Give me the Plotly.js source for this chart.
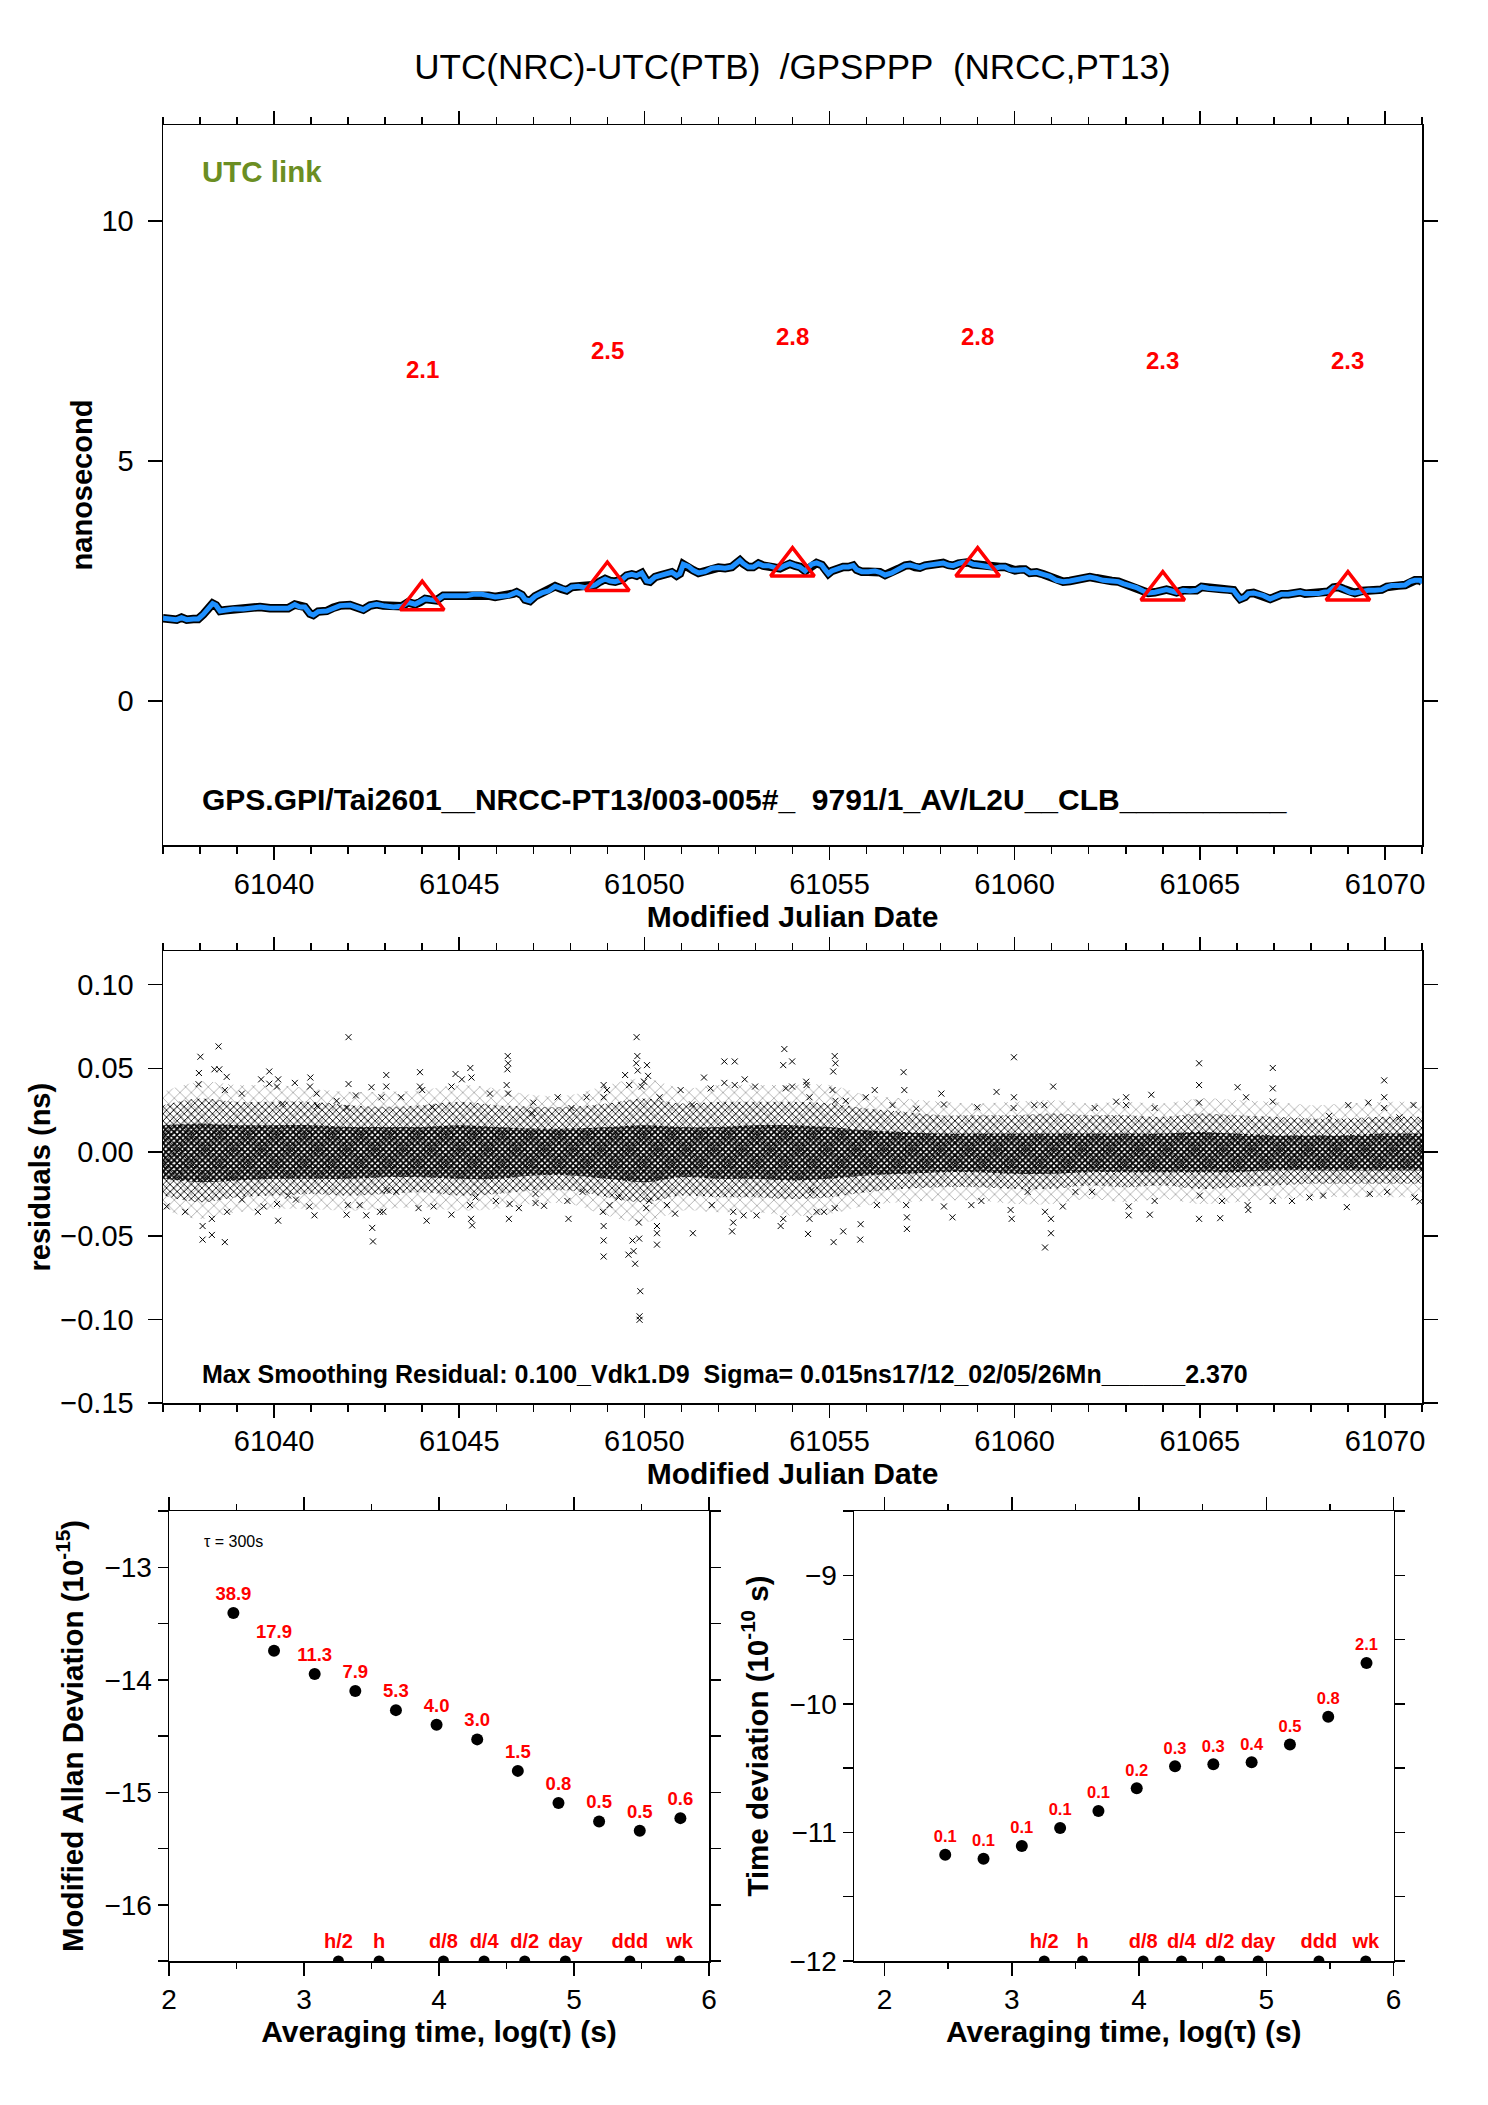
<!DOCTYPE html>
<html>
<head>
<meta charset="utf-8">
<script src="https://cdn.plot.ly/plotly-3.0.1.min.js"></script>
<style>html,body{margin:0;padding:0;background:#fff;}#chart{width:1488px;height:2105px;}</style>
</head>
<body>
<div id="chart"></div>
<script>
// ---------- DATA ----------
const mjdLink = [61037.00,61037.19,61037.37,61037.50,61037.64,61037.82,61037.95,61038.09,61038.22,61038.34,61038.43,61038.54,61038.67,61038.90,61039.17,61039.44,61039.62,61039.89,61040.16,61040.38,61040.56,61040.70,61040.83,61040.97,61041.06,61041.19,61041.42,61041.60,61041.78,61042.05,61042.23,61042.41,61042.59,61042.77,61042.95,61043.22,61043.45,61043.62,61043.81,61043.94,61044.08,61044.21,61044.39,61044.57,61044.75,61045.02,61045.20,61045.38,61045.61,61045.79,61045.97,61046.15,61046.33,61046.46,61046.55,61046.69,61046.78,61046.91,61047.05,61047.23,61047.41,61047.59,61047.77,61047.90,61048.04,61048.22,61048.40,61048.53,61048.67,61048.80,61048.94,61049.07,61049.21,61049.39,61049.52,61049.66,61049.79,61049.93,61050.06,61050.15,61050.29,61050.42,61050.60,61050.74,61050.87,61050.96,61051.05,61051.19,61051.32,61051.46,61051.64,61051.82,61052.00,61052.18,61052.36,61052.49,61052.58,61052.67,61052.81,61052.94,61053.08,61053.21,61053.35,61053.53,61053.66,61053.80,61053.93,61054.07,61054.20,61054.34,61054.43,61054.52,61054.65,61054.79,61054.88,61054.97,61055.06,61055.19,61055.37,61055.51,61055.64,61055.73,61055.87,61056.05,61056.23,61056.36,61056.50,61056.68,61056.86,61057.04,61057.17,61057.31,61057.44,61057.58,61057.71,61057.89,61058.07,61058.21,61058.34,61058.48,61058.61,61058.75,61058.88,61059.02,61059.20,61059.33,61059.47,61059.60,61059.74,61059.87,61060.01,61060.14,61060.28,61060.41,61060.59,61060.77,61060.95,61061.13,61061.31,61061.49,61061.67,61061.85,61062.03,61062.21,61062.39,61062.62,61062.80,61062.93,61063.11,61063.29,61063.47,61063.61,61063.79,61063.97,61064.10,61064.24,61064.37,61064.55,61064.73,61064.91,61065.05,61065.23,61065.41,61065.59,61065.77,61065.91,61066.00,61066.09,61066.22,61066.31,61066.45,61066.58,61066.72,61066.90,61067.03,61067.21,61067.39,61067.57,61067.71,61067.84,61068.02,61068.20,61068.34,61068.47,61068.61,61068.74,61068.88,61069.06,61069.19,61069.37,61069.55,61069.73,61069.91,61070.05,61070.18,61070.36,61070.54,61070.68,61070.81,61070.95,61071.01];
const linkNs = [1.723,1.709,1.695,1.737,1.695,1.709,1.709,1.806,1.924,2.029,1.994,1.876,1.890,1.917,1.917,1.945,1.959,1.931,1.917,1.931,2.008,1.959,1.959,1.820,1.792,1.862,1.876,1.945,1.987,2.001,1.959,1.903,1.987,2.015,1.987,1.959,1.973,2.056,2.015,2.056,2.126,2.112,2.098,2.195,2.195,2.195,2.195,2.223,2.223,2.195,2.167,2.181,2.195,2.237,2.265,2.209,2.112,2.084,2.181,2.251,2.292,2.390,2.334,2.306,2.376,2.390,2.362,2.376,2.417,2.487,2.542,2.501,2.487,2.528,2.612,2.640,2.612,2.667,2.501,2.487,2.584,2.612,2.653,2.681,2.612,2.653,2.848,2.806,2.723,2.667,2.695,2.765,2.779,2.765,2.792,2.876,2.931,2.862,2.792,2.792,2.862,2.820,2.820,2.779,2.765,2.820,2.860,2.820,2.792,2.709,2.765,2.848,2.876,2.834,2.737,2.653,2.709,2.751,2.792,2.792,2.820,2.737,2.695,2.695,2.709,2.681,2.626,2.667,2.751,2.820,2.834,2.792,2.779,2.820,2.834,2.834,2.876,2.834,2.820,2.862,2.890,2.890,2.848,2.834,2.820,2.792,2.765,2.792,2.792,2.737,2.723,2.737,2.737,2.667,2.681,2.640,2.598,2.515,2.487,2.501,2.528,2.556,2.584,2.556,2.515,2.501,2.487,2.445,2.404,2.362,2.292,2.251,2.265,2.306,2.320,2.292,2.265,2.306,2.292,2.306,2.376,2.348,2.334,2.334,2.320,2.306,2.209,2.126,2.167,2.237,2.251,2.223,2.195,2.126,2.167,2.223,2.223,2.251,2.265,2.237,2.237,2.237,2.265,2.278,2.362,2.376,2.334,2.265,2.251,2.292,2.306,2.306,2.320,2.376,2.404,2.404,2.417,2.487,2.515,2.515,2.473];

const mjdMark = [61044, 61049, 61054, 61059, 61064, 61069];
const markVal = [2.1, 2.5, 2.8, 2.8, 2.3, 2.3];

// residuals: envelopes of the dense band (per day) and individual outliers
const bandMjd  = [61037,61038,61039,61040,61041,61042,61043,61044,61045,61046,61047,61048,61049,61050,61051,61052,61053,61054,61055,61056,61057,61058,61059,61060,61061,61062,61063,61064,61065,61066,61067,61068,61069,61070,61071];
const sparseUp = [0.036,0.042,0.040,0.040,0.038,0.036,0.036,0.037,0.040,0.038,0.034,0.034,0.040,0.044,0.038,0.040,0.040,0.040,0.040,0.034,0.032,0.030,0.029,0.030,0.031,0.029,0.030,0.029,0.032,0.031,0.030,0.028,0.029,0.030,0.030];
const outerUp  = [0.028,0.032,0.030,0.030,0.030,0.028,0.027,0.028,0.030,0.028,0.027,0.027,0.029,0.032,0.029,0.030,0.030,0.030,0.029,0.026,0.024,0.022,0.022,0.022,0.023,0.022,0.022,0.021,0.023,0.022,0.021,0.020,0.020,0.021,0.021];
const coreUp   = [0.016,0.017,0.016,0.016,0.016,0.015,0.015,0.015,0.016,0.015,0.014,0.014,0.015,0.016,0.015,0.015,0.016,0.016,0.015,0.013,0.012,0.011,0.011,0.011,0.011,0.011,0.011,0.011,0.012,0.011,0.010,0.010,0.010,0.011,0.011];
const coreLo   = [-0.016,-0.018,-0.017,-0.016,-0.016,-0.016,-0.015,-0.015,-0.016,-0.016,-0.014,-0.014,-0.016,-0.018,-0.015,-0.016,-0.016,-0.017,-0.016,-0.014,-0.013,-0.012,-0.012,-0.013,-0.013,-0.012,-0.012,-0.012,-0.012,-0.012,-0.011,-0.011,-0.011,-0.011,-0.011];
const outerLo  = [-0.026,-0.030,-0.027,-0.026,-0.025,-0.026,-0.025,-0.024,-0.026,-0.025,-0.023,-0.023,-0.027,-0.030,-0.026,-0.027,-0.027,-0.028,-0.027,-0.024,-0.022,-0.021,-0.021,-0.022,-0.022,-0.020,-0.021,-0.020,-0.022,-0.021,-0.020,-0.019,-0.019,-0.019,-0.019];
const sparseLo = [-0.034,-0.040,-0.036,-0.034,-0.034,-0.035,-0.034,-0.033,-0.035,-0.034,-0.031,-0.031,-0.038,-0.042,-0.035,-0.036,-0.036,-0.038,-0.037,-0.032,-0.030,-0.029,-0.029,-0.031,-0.031,-0.028,-0.030,-0.028,-0.031,-0.030,-0.028,-0.027,-0.027,-0.027,-0.027];

const resOutMjd = [61037.10,61038.01,61037.97,61037.96,61038.07,61038.07,61038.50,61038.39,61038.52,61038.32,61038.32,61038.67,61038.72,61038.67,61038.73,61037.60,61039.13,61039.13,61039.56,61039.65,61039.87,61039.87,61039.72,61040.08,61040.11,61040.11,61040.08,61040.56,61040.23,61040.38,61040.59,61040.98,61040.97,61040.95,61041.09,61041.15,61041.16,61041.69,61042.01,61042.01,61041.96,61041.96,61041.99,61042.21,61042.31,61042.49,61042.65,61042.67,61042.63,61042.90,61043.03,61043.03,61042.86,61042.95,61043.04,61043.30,61043.43,61043.94,61043.94,61044.00,61043.90,61044.12,61044.31,61044.28,61044.79,61044.79,61044.90,61045.07,61045.30,61045.33,61045.32,61045.35,61045.29,61045.44,61045.83,61045.99,61046.31,61046.32,61046.30,61046.28,61046.32,61046.34,61046.36,61046.61,61047.06,61047.06,61047.29,61047.00,61046.97,61047.66,61047.92,61047.95,61048.03,61048.33,61048.44,61048.90,61048.90,61048.99,61048.88,61048.90,61048.90,61048.90,61049.06,61049.30,61049.48,61049.59,61049.57,61049.68,61049.71,61049.75,61049.79,61049.81,61049.78,61049.82,61049.85,61049.89,61049.87,61049.87,61049.86,61049.93,61049.99,61050.07,61050.10,61050.05,61050.13,61050.34,61050.34,61050.34,61050.41,61050.61,61050.83,61050.98,61051.31,61051.29,61051.61,61051.79,61051.82,61052.16,61052.44,61052.16,61052.44,61052.40,61052.37,61052.40,61052.71,61052.68,61052.99,61053.03,61053.78,61053.75,61053.82,61053.68,61053.75,61053.99,61053.99,61054.42,61054.38,61054.37,61054.46,61054.46,61054.65,61054.51,61054.85,61055.11,61055.14,61055.16,61055.10,61055.08,61055.16,61055.14,61055.37,61055.44,61055.84,61055.83,61055.98,61056.22,61056.28,61056.70,61057.00,61057.02,61057.07,61057.09,61057.09,61057.34,61058.02,61058.09,61058.09,61058.32,61058.83,61058.99,61059.10,61059.51,61059.89,61059.92,61059.98,61059.98,61059.97,61060.35,61060.53,61060.80,61060.82,61060.82,61060.98,61060.98,61061.04,61061.30,61061.64,61062.09,61062.16,61062.74,61063.01,61063.01,61063.08,61063.08,61063.69,61063.65,61063.78,61063.78,61064.98,61064.98,61064.98,61065.00,61064.98,61065.55,61065.60,61066.02,61066.25,61066.29,61066.31,61066.97,61066.97,61066.97,61066.97,61067.49,61067.96,61068.33,61068.49,61068.97,61069.01,61069.55,61069.59,61069.98,61069.98,61069.98,61070.06,61070.39,61070.77,61070.80,61070.94];
const resOutVal = [-0.0325,0.0569,0.0472,0.0405,-0.0442,-0.0523,0.0631,0.0494,0.0494,-0.0399,-0.0495,-0.0538,0.0449,0.0370,-0.0357,-0.0357,0.0349,-0.0284,-0.0357,0.0434,0.0481,0.0408,-0.0325,-0.0310,-0.0410,0.0434,0.0391,0.0413,0.0288,-0.0260,-0.0284,0.0445,0.0391,-0.0325,-0.0378,0.0349,0.0274,0.0306,0.0686,0.0406,0.0263,-0.0374,-0.0317,0.0338,-0.0317,-0.0378,-0.0453,-0.0534,0.0387,0.0327,0.0460,0.0391,-0.0357,-0.0357,-0.0228,-0.0238,0.0327,0.0477,0.0391,0.0370,-0.0335,-0.0410,-0.0325,0.0267,0.0391,-0.0374,0.0466,0.0434,0.0502,0.0445,-0.0399,-0.0438,-0.0317,-0.0271,0.0349,-0.0292,0.0573,0.0530,0.0494,0.0400,0.0349,-0.0399,-0.0310,-0.0335,-0.0250,-0.0305,-0.0321,0.0295,0.0231,0.0327,-0.0292,-0.0399,0.0263,-0.0238,0.0327,0.0400,0.0327,0.0370,-0.0357,-0.0442,-0.0528,-0.0624,-0.0317,-0.0271,0.0460,0.0400,-0.0613,-0.0528,-0.0592,-0.0667,0.0686,0.0573,0.0530,0.0487,-0.0421,-0.0831,-0.0981,-0.1002,-0.0517,0.0391,0.0420,0.0519,0.0455,-0.0335,-0.0292,-0.0442,-0.0485,-0.0553,0.0327,-0.0317,-0.0368,0.0370,-0.0485,0.0284,0.0445,0.0380,-0.0317,0.0541,0.0541,0.0413,0.0400,-0.0421,-0.0474,-0.0357,0.0434,-0.0378,0.0391,-0.0378,0.0615,0.0519,0.0380,-0.0442,-0.0399,0.0541,0.0391,-0.0489,0.0400,0.0420,0.0327,-0.0399,-0.0357,-0.0228,-0.0357,-0.0538,0.0573,0.0530,0.0481,0.0370,0.0306,-0.0335,-0.0474,0.0306,-0.0431,-0.0523,0.0327,0.0370,-0.0317,0.0280,0.0477,0.0370,-0.0317,-0.0390,-0.0459,0.0259,0.0349,0.0284,-0.0325,-0.0390,-0.0317,0.0267,-0.0292,0.0359,-0.0346,-0.0399,0.0566,0.0327,0.0263,-0.0238,0.0280,0.0280,-0.0357,-0.0570,-0.0399,-0.0485,0.0391,-0.0325,-0.0238,-0.0238,0.0263,0.0301,0.0327,0.0280,-0.0378,-0.0325,0.0342,-0.0374,0.0263,-0.0292,0.0530,0.0400,0.0295,-0.0260,-0.0399,-0.0395,-0.0292,0.0387,0.0327,-0.0317,-0.0346,0.0502,0.0380,0.0301,-0.0292,-0.0292,-0.0271,-0.0260,0.0216,-0.0329,0.0280,0.0295,-0.0250,0.0428,0.0327,0.0263,-0.0238,0.0207,0.0280,-0.0271,-0.0295];

// stability (log10 of tau in s)
const logTau  = [2.477,2.778,3.079,3.380,3.681,3.982,4.283,4.584,4.885,5.186,5.487,5.788];
const mdevLog = [-13.407,-13.743,-13.948,-14.100,-14.270,-14.400,-14.530,-14.810,-15.095,-15.260,-15.342,-15.230];
const mdevLbl = ["38.9","17.9","11.3","7.9","5.3","4.0","3.0","1.5","0.8","0.5","0.5","0.6"];
const tdevLog = [-11.173,-11.204,-11.105,-10.966,-10.833,-10.656,-10.485,-10.470,-10.455,-10.316,-10.100,-9.682];
const tdevLbl = ["0.1","0.1","0.1","0.1","0.1","0.2","0.3","0.3","0.4","0.5","0.8","2.1"];
const refLogTau = [3.255,3.556,4.033,4.334,4.635,4.936,5.414,5.782];
const refLbl    = ["h/2","h","d/8","d/4","d/2","day","ddd","wk"];

// ---------- LAYOUT HELPERS ----------
const W = 1488, H = 2105;
const FONT = "Liberation Sans, Arial, Helvetica, sans-serif";
const fx = p => p / W;
const fy = p => 1 - p / H;
const RED = "#ff0000";

function axisBase(extra) {
  return Object.assign({
    showline: true, linecolor: "#000", linewidth: 1.5, mirror: "ticks",
    ticks: "outside", tickcolor: "#000", tickwidth: 1.5,
    showgrid: false, zeroline: false,
    tickfont: {family: FONT, size: 29, color: "#000"},
    fixedrange: true
  }, extra);
}

const traces = [];
// top plot
traces.push({x: mjdLink, y: linkNs, xaxis: "x", yaxis: "y", mode: "lines",
  line: {color: "#000", width: 8.5}, hoverinfo: "skip", showlegend: false});
traces.push({x: mjdLink, y: linkNs, xaxis: "x", yaxis: "y", mode: "lines",
  line: {color: "#1e90ff", width: 5}, hoverinfo: "skip", showlegend: false});
traces.push({x: mjdMark, y: markVal, xaxis: "x", yaxis: "y", mode: "markers",
  marker: {symbol: "triangle-up-open", size: 38, color: RED, line: {color: RED, width: 3.5}},
  showlegend: false, cliponaxis: false});

// residual plot: band of dense crosses
const mk = (y, fill, pat) => {
  const t = {x: bandMjd, y: y, xaxis: "x2", yaxis: "y2", mode: "lines",
    line: {width: 0, shape: "spline", color: "rgba(0,0,0,0)"}, showlegend: false, hoverinfo: "skip"};
  if (fill) { t.fill = "tonexty"; t.fillcolor = "rgba(0,0,0,0)"; t.fillpattern = pat; }
  return t;
};
traces.push(mk(sparseLo, false));
traces.push(mk(sparseUp, true, {shape: "x", size: 8, solidity: 0.1, fgcolor: "#000", bgcolor: "rgba(255,255,255,0)", fgopacity: 0.7}));
traces.push(mk(outerLo, false));
traces.push(mk(outerUp, true, {shape: "x", size: 5, solidity: 0.3, fgcolor: "#000", bgcolor: "rgba(255,255,255,0)", fgopacity: 1}));
traces.push(mk(coreLo, false));
traces.push(mk(coreUp, true, {shape: "x", size: 4, solidity: 0.65, fgcolor: "#000", bgcolor: "rgba(255,255,255,0)", fgopacity: 1}));
traces.push({x: resOutMjd, y: resOutVal, xaxis: "x2", yaxis: "y2", mode: "markers",
  marker: {symbol: "x-thin-open", size: 6, color: "#000", line: {color: "#000", width: 1}}, showlegend: false});

// MDEV
traces.push({x: logTau, y: mdevLog, xaxis: "x3", yaxis: "y3", mode: "markers+text",
  text: mdevLbl, textposition: "top center",
  textfont: {family: FONT, size: 18.5, color: RED, weight: "bold"},
  marker: {color: "#000", size: 12}, showlegend: false, cliponaxis: false});
traces.push({x: refLogTau, y: refLogTau.map(() => -16.5), xaxis: "x3", yaxis: "y3", mode: "markers+text",
  text: refLbl, textposition: "top center",
  textfont: {family: FONT, size: 20, color: RED, weight: "bold"},
  marker: {color: "#000", size: 11}, showlegend: false, cliponaxis: true});
// TDEV
traces.push({x: logTau, y: tdevLog, xaxis: "x4", yaxis: "y4", mode: "markers+text",
  text: tdevLbl, textposition: "top center",
  textfont: {family: FONT, size: 16.5, color: RED, weight: "bold"},
  marker: {color: "#000", size: 12}, showlegend: false, cliponaxis: false});
traces.push({x: refLogTau, y: refLogTau.map(() => -12), xaxis: "x4", yaxis: "y4", mode: "markers+text",
  text: refLbl, textposition: "top center",
  textfont: {family: FONT, size: 20, color: RED, weight: "bold"},
  marker: {color: "#000", size: 11}, showlegend: false, cliponaxis: true});

const boldTitle = (t, size, standoff) => ({text: t, font: {family: FONT, size: size, color: "#000", weight: "bold"}, standoff: standoff});
const minorX = (d, len) => ({dtick: d, ticklen: len, ticks: "outside", tickcolor: "#000", tickwidth: 1.5});

const layout = {
  width: W, height: H,
  margin: {l: 0, r: 0, t: 0, b: 0},
  paper_bgcolor: "#fff", plot_bgcolor: "#fff",
  showlegend: false,
  font: {family: FONT, color: "#000"},
  title: {text: "UTC(NRC)-UTC(PTB)\u00a0\u00a0/GPSPPP\u00a0\u00a0(NRCC,PT13)",
    font: {family: FONT, size: 35, color: "#000"},
    x: fx(792.5), xanchor: "center", xref: "paper", y: fy(67), yanchor: "middle", yref: "paper"},
  xaxis: axisBase({domain: [fx(163), fx(1422)], anchor: "y", range: [61037, 61071],
    tick0: 61040, dtick: 5, tickformat: "d", ticklen: 13, minor: minorX(1, 7),
    title: boldTitle("Modified Julian Date", 30, 2)}),
  yaxis: axisBase({domain: [fy(845), fy(125)], anchor: "x", range: [-3, 12],
    tickvals: [0, 5, 10], ticklen: 14, ticklabelstandoff: 8,
    title: boldTitle("nanosecond", 29, 0)}),
  xaxis2: axisBase({domain: [fx(163), fx(1422)], anchor: "y2", range: [61037, 61071],
    tick0: 61040, dtick: 5, tickformat: "d", ticklen: 13, minor: minorX(1, 7), ticklabelstandoff: -2,
    title: boldTitle("Modified Julian Date", 30, 2)}),
  yaxis2: axisBase({domain: [fy(1403.2), fy(951.1)], anchor: "x2", range: [-0.15, 0.12],
    tickvals: [-0.15, -0.10, -0.05, 0, 0.05, 0.10], tickformat: ".2f", ticklen: 14, ticklabelstandoff: 8,
    title: boldTitle("residuals (ns)", 29, 1)}),
  xaxis3: axisBase({domain: [fx(169), fx(709)], anchor: "y3", range: [2, 6],
    dtick: 1, ticklen: 13, tickfont: {family: FONT, size: 28, color: "#000"},
    minor: minorX(0.5, 6),
    title: boldTitle("Averaging time, log(\u03c4) (s)", 30, 2)}),
  yaxis3: axisBase({domain: [fy(1961), fy(1511)], anchor: "x3", range: [-16.5, -12.5],
    tick0: -13, dtick: 1, ticklen: 10, tickfont: {family: FONT, size: 28, color: "#000"},
    minor: minorX(0.5, 10),
    title: boldTitle("Modified Allan Deviation (10<sup>-15</sup>)", 29.5, 12)}),
  xaxis4: axisBase({domain: [fx(854), fx(1393.5)], anchor: "y4", range: [1.76, 6],
    tick0: 2, dtick: 1, ticklen: 13, tickfont: {family: FONT, size: 28, color: "#000"},
    minor: minorX(0.5, 6),
    title: boldTitle("Averaging time, log(\u03c4) (s)", 30, 2)}),
  yaxis4: axisBase({domain: [fy(1961), fy(1511)], anchor: "x4", range: [-12, -8.5],
    dtick: 1, ticklen: 10, tickfont: {family: FONT, size: 28, color: "#000"},
    minor: minorX(0.5, 10),
    title: boldTitle("Time deviation (10<sup>-10</sup> s)", 29.5, 12)}),
  annotations: []
};

// text inside the plots
layout.annotations.push({xref: "paper", yref: "paper", x: fx(200), y: fy(172), xanchor: "left", yanchor: "middle",
  text: "UTC link", showarrow: false, font: {family: FONT, size: 29.5, color: "#6b8e23", weight: "bold"}});
mjdMark.forEach((m, i) => layout.annotations.push({xref: "x", yref: "y", x: m, y: markVal[i] + 4.8,
  text: markVal[i].toFixed(1), showarrow: false, xanchor: "center", yanchor: "middle",
  font: {family: FONT, size: 24, color: RED, weight: "bold"}}));
layout.annotations.push({xref: "paper", yref: "paper", x: fx(200), y: fy(800), xanchor: "left", yanchor: "middle",
  text: "GPS.GPI/Tai2601__NRCC-PT13/003-005#_\u00a0\u00a09791/1_AV/L2U__CLB__________", showarrow: false,
  font: {family: FONT, size: 30, color: "#000", weight: "bold"}});
layout.annotations.push({xref: "paper", yref: "paper", x: fx(200), y: fy(1374), xanchor: "left", yanchor: "middle",
  text: "Max Smoothing Residual: 0.100_Vdk1.D9\u00a0\u00a0Sigma= 0.015ns17/12_02/05/26Mn______2.370", showarrow: false,
  font: {family: FONT, size: 25, color: "#000", weight: "bold"}});
layout.annotations.push({xref: "paper", yref: "paper", x: fx(202), y: fy(1541), xanchor: "left", yanchor: "middle",
  text: "\u03c4 = 300s", showarrow: false, font: {family: FONT, size: 16, color: "#000"}});

Plotly.newPlot("chart", traces, layout, {staticPlot: true, displayModeBar: false});
</script>
</body>
</html>
